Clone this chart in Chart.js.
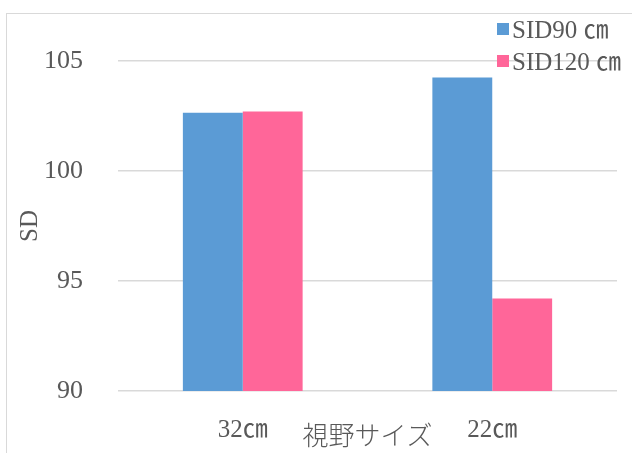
<!DOCTYPE html>
<html>
<head>
<meta charset="utf-8">
<script src="https://cdn.jsdelivr.net/npm/chart.js@4.4.0/dist/chart.umd.min.js"></script>
<style>
  html, body { margin: 0; padding: 0; background: #fff; overflow: hidden; }
  #frame { position: absolute; left: 6px; top: 13px; width: 700px; height: 500px; border: 1px solid #d9d9d9; }
  #chart { position: absolute; left: 0; top: 0; }
</style>
</head>
<body>
<div id="frame"></div>
<canvas id="chart" width="632" height="453"></canvas>
<script>
const categories = ['32㎝', '22㎝'];
const seriesNames = ['SID90 ㎝', 'SID120 ㎝'];
const sid90 = [102.65, 104.25];
const sid120 = [102.7, 94.2];
const yTicks = [90, 95, 100, 105];

const textColor = '#595959';
const serif = '"Liberation Serif", "Noto Sans CJK JP", serif';

// legend drawn top-right, stacked like the original
const cornerLegend = {
    id: 'cornerLegend',
    afterDraw(chart) {
        const ctx = chart.ctx;
        ctx.save();
        ctx.font = '25px ' + serif;
        ctx.textBaseline = 'middle';
        chart.data.datasets.forEach((ds, i) => {
            const y = 29 + i * 32;
            ctx.fillStyle = ds.backgroundColor;
            ctx.fillRect(497, y - 6, 12, 12);
            ctx.fillStyle = textColor;
            ctx.fillText(ds.label, 512, y + 2);
        });
        ctx.restore();
    }
};

new Chart(document.getElementById('chart').getContext('2d'), {
    type: 'bar',
    data: {
        labels: categories,
        datasets: [
            { label: seriesNames[0], data: sid90, backgroundColor: '#5B9BD5' },
            { label: seriesNames[1], data: sid120, backgroundColor: '#FF6699' }
        ]
    },
    options: {
        responsive: false,
        animation: false,
        layout: { padding: { top: 61, right: 15, bottom: 0, left: 0 } },
        datasets: { bar: { categoryPercentage: 0.48, barPercentage: 1.0 } },
        plugins: {
            legend: { display: false },
            tooltip: { enabled: false }
        },
        scales: {
            x: {
                grid: { display: false },
                border: { display: false },
                ticks: { color: textColor, font: { family: serif, size: 25 }, padding: 16, maxRotation: 0 },
                title: {
                    display: true,
                    text: '視野サイズ',
                    color: textColor,
                    font: { family: '"Noto Sans CJK JP", sans-serif', size: 26, weight: 300 },
                    padding: { top: 0, bottom: 2 }
                },
                afterFit: (scale) => { scale.height = 62; }
            },
            y: {
                min: yTicks[0],
                max: yTicks[yTicks.length - 1],
                afterBuildTicks: (scale) => { scale.ticks = yTicks.map(v => ({ value: v })); },
                grid: { color: '#d9d9d9', lineWidth: 1.5, drawTicks: false },
                border: { display: false },
                ticks: { color: textColor, font: { family: serif, size: 26 }, padding: 35 },
                title: {
                    display: true,
                    text: 'SD',
                    color: textColor,
                    font: { family: serif, size: 25 },
                    padding: { top: 15, bottom: 0 }
                },
                afterFit: (scale) => { scale.width = 118; }
            }
        }
    },
    plugins: [cornerLegend]
});
</script>
</body>
</html>
